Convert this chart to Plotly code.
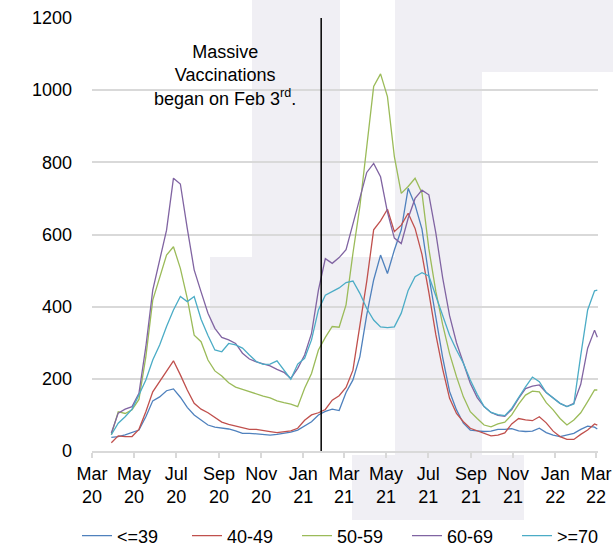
import plotly.graph_objects as go

dates = [
    "2020-03-29", "2020-04-08", "2020-04-18", "2020-04-28", "2020-05-08", "2020-05-18",
    "2020-05-28", "2020-06-07", "2020-06-17", "2020-06-27", "2020-07-07", "2020-07-17",
    "2020-07-27", "2020-08-06", "2020-08-16", "2020-08-26", "2020-09-05", "2020-09-15",
    "2020-09-25", "2020-10-05", "2020-10-15", "2020-10-25", "2020-11-04", "2020-11-14",
    "2020-11-24", "2020-12-04", "2020-12-14", "2020-12-24", "2021-01-03", "2021-01-13",
    "2021-01-23", "2021-02-02", "2021-02-12", "2021-02-22", "2021-03-04", "2021-03-14",
    "2021-03-24", "2021-04-03", "2021-04-13", "2021-04-23", "2021-05-03", "2021-05-13",
    "2021-05-23", "2021-06-02", "2021-06-12", "2021-06-22", "2021-07-02", "2021-07-12",
    "2021-07-22", "2021-08-01", "2021-08-11", "2021-08-21", "2021-08-31", "2021-09-10",
    "2021-09-20", "2021-09-30", "2021-10-10", "2021-10-20", "2021-10-30", "2021-11-09",
    "2021-11-19", "2021-11-29", "2021-12-09", "2021-12-19", "2021-12-29", "2022-01-08",
    "2022-01-18", "2022-01-28", "2022-02-07", "2022-02-17", "2022-02-27", "2022-03-03",
]

age_le39 = [38, 40, 45, 52, 58, 95, 139, 150, 167, 172, 149, 121, 100, 86, 72, 66,
            64, 61, 56, 49, 49, 47, 46, 44, 46, 49, 52, 58, 69, 81, 100, 110,
            116, 112, 162, 197, 261, 377, 474, 543, 492, 557, 613, 728, 682, 615, 485, 369,
            259, 165, 114, 77, 58, 56, 54, 55, 60,
            60, 62, 56, 54, 55, 63, 51, 44, 40, 44, 49, 60, 69, 66, 61]

age_40_49 = [23, 42, 40, 40, 60, 109, 164, 192, 220, 250, 211, 169, 132, 116, 106, 92,
             80, 74, 70, 65, 60, 60, 56, 54, 51, 54, 56, 63, 85, 100, 106, 115,
             141, 153, 176, 224, 349, 470, 613, 638, 670, 608, 626, 659, 617, 545, 439, 323,
             227, 146, 104, 81, 63, 56, 49, 42, 44,
             50, 75, 90, 86, 84, 95, 78, 55, 40, 32, 32, 46, 58, 75, 72]

age_50_59 = [45, 109, 104, 114, 143, 261, 418, 483, 543, 566, 506, 423, 321, 303, 252, 222,
             208, 189, 177, 171, 164, 159, 152, 147, 139, 134, 130, 123, 174, 215, 280, 315,
             345, 343, 405, 548, 677, 843, 1010, 1045, 982, 816, 714, 733, 756, 715, 560, 443,
             350, 270, 206, 150, 109, 90, 72, 67, 75,
             80, 100, 130, 155, 166, 164, 134, 114, 90, 72, 86, 106, 137, 169, 169]

age_60_69 = [50, 105, 116, 123, 160, 289, 446, 525, 612, 756, 740, 617, 502, 441, 382, 340,
             315, 308, 298, 271, 255, 247, 242, 236, 226, 218, 201, 229, 266, 326, 446, 533,
             520, 536, 558, 630, 707, 772, 797, 760, 662, 590, 575, 645, 700, 723, 710, 605,
             480, 375, 300, 243, 188, 148, 123, 107, 99,
             96, 115, 146, 173, 180, 183, 162, 147, 132, 123, 132, 185, 285, 335, 315]

age_ge70 = [45, 77, 95, 116, 155, 197, 252, 294, 345, 391, 428, 414, 428, 365, 320, 280,
            275, 298, 294, 285, 266, 248, 240, 241, 250, 224, 199, 241, 257, 308, 391, 432,
            443, 452, 467, 471, 437, 395, 363, 344, 342, 344, 382, 445, 483, 494, 485, 432,
            378, 321, 280, 243, 197, 157, 123, 107, 101,
            98, 118, 149, 178, 205, 192, 162, 147, 132, 123, 130, 265, 391, 444, 446]

series_names = ["<=39", "40-49", "50-59", "60-69", ">=70"]
series_values = [age_le39, age_40_49, age_50_59, age_60_69, age_ge70]
series_colors = ["#4f81bd", "#c0504d", "#9bbb59", "#8064a2", "#4bacc6"]

tick_dates = ["2020-03-01", "2020-05-01", "2020-07-01", "2020-09-01", "2020-11-01",
              "2021-01-01", "2021-03-01", "2021-05-01", "2021-07-01", "2021-09-01",
              "2021-11-01", "2022-01-01", "2022-03-01"]
tick_text = ["Mar<br>20", "May<br>20", "Jul<br>20", "Sep<br>20", "Nov<br>20",
             "Jan<br>21", "Mar<br>21", "May<br>21", "Jul<br>21", "Sep<br>21",
             "Nov<br>21", "Jan<br>22", "Mar<br>22"]

vaccination_date = "2021-01-27"

FONT = "Liberation Sans, Arial, sans-serif"
W, H = 613, 548
ML, MR, MT, MB = 92, 15, 18, 97
PW, PH = W - ML - MR, H - MT - MB


def px(xp):
    return (xp - ML) / PW


def py(yp):
    return (H - MB - yp) / PH


fig = go.Figure()
for name, vals, col in zip(series_names, series_values, series_colors):
    fig.add_trace(go.Scatter(x=dates, y=vals, mode="lines", name=name,
                             line=dict(color=col, width=1.3)))

# light watermark blocks in the background
wm = "#f0eff4"
blocks = [(252, 0, 340, 257), (210, 257, 396, 330), (395, 0, 482, 520),
          (482, 0, 613, 72), (352, 455, 524, 520)]
for x0, y0, x1, y1 in blocks:
    fig.add_shape(type="rect", xref="paper", yref="paper",
                  x0=px(x0), x1=px(x1), y0=py(y1), y1=py(y0),
                  fillcolor=wm, line=dict(width=0), layer="below")

fig.add_shape(type="line", xref="x", yref="paper", x0=vaccination_date, x1=vaccination_date,
              y0=0, y1=1, line=dict(color="black", width=1.5), layer="above")

fig.add_annotation(xref="paper", yref="paper", x=px(225), y=py(75.5),
                   text="Massive<br>Vaccinations<br>began on Feb 3<sup>rd</sup>.",
                   showarrow=False, xanchor="center", yanchor="middle", align="center",
                   font=dict(family=FONT, size=18, color="black"))

fig.update_layout(
    width=W, height=H,
    margin=dict(l=ML, r=MR, t=MT, b=MB, autoexpand=False),
    paper_bgcolor="white", plot_bgcolor="rgba(0,0,0,0)",
    font=dict(family=FONT, size=18, color="black"),
    showlegend=True,
    legend=dict(orientation="h", x=px(77), xanchor="left", y=py(536), yanchor="middle",
                font=dict(family=FONT, size=18, color="black"),
                entrywidth=65, entrywidthmode="pixels", bgcolor="rgba(0,0,0,0)"),
    xaxis=dict(type="date", range=["2020-03-01", "2022-03-04"],
               tickvals=tick_dates, ticktext=tick_text, tickangle=0,
               showgrid=False, showline=True, linecolor="#d9d9d9", linewidth=2,
               ticks="outside", ticklen=5, tickwidth=2, tickcolor="#d9d9d9",
               tickfont=dict(family=FONT, size=18, color="black")),
    yaxis=dict(range=[0, 1200], dtick=200, showgrid=True, gridcolor="#d9d9d9", gridwidth=1.5,
               zeroline=False, showline=False, ticks="", ticklabelstandoff=19,
               tickfont=dict(family=FONT, size=18, color="black")),
)

fig.write_html("out.html", config={"displayModeBar": False},
               post_script="document.body.style.margin='0px';"
                           "document.documentElement.style.overflow='hidden';")
